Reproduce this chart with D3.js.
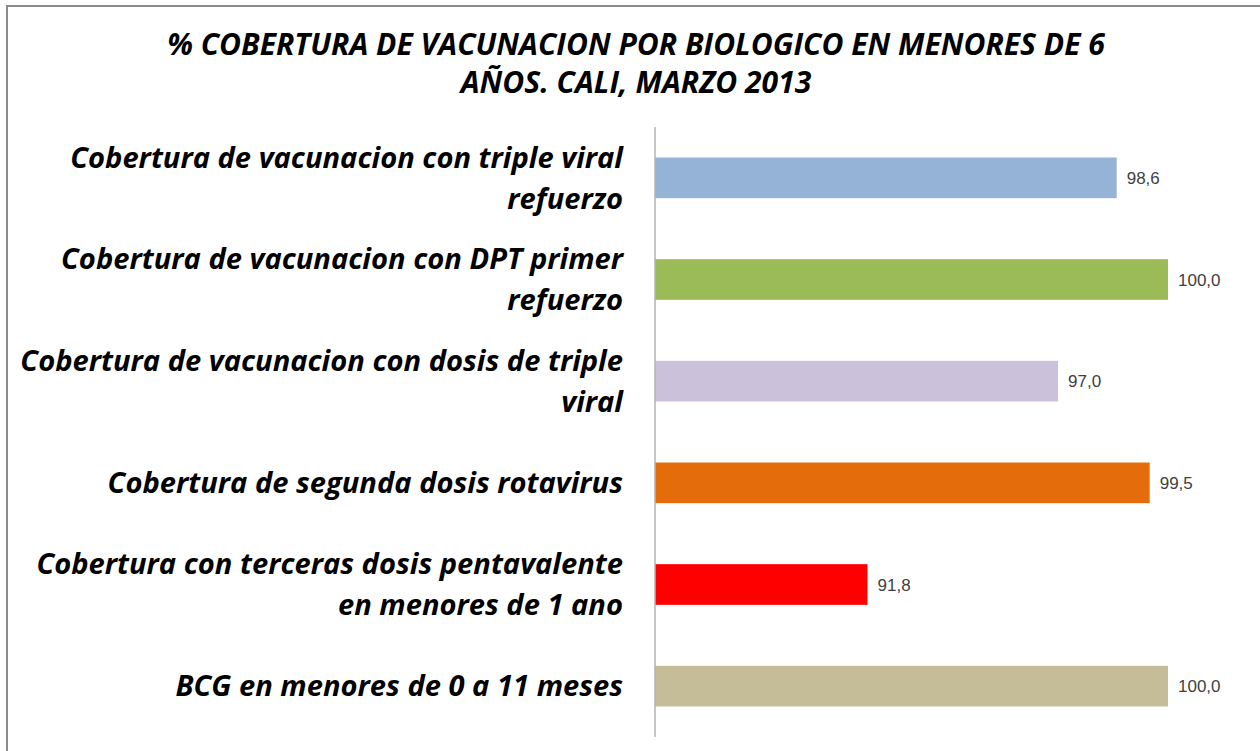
<!DOCTYPE html>
<html>
<head>
<meta charset="utf-8">
<script src="https://cdn.jsdelivr.net/npm/d3@7"></script>
<style>
  body { margin: 0; background: #fff; }
  svg { display: block; }
  .lbl { font-family: "Open Sans", Lato, sans-serif; font-weight: bold; font-style: italic; fill: #000; }
  .val { font-family: "Liberation Sans", Arial, sans-serif; font-size: 17px; fill: #404040; }
</style>
</head>
<body>
<div id="chart"></div>
<script>
// categories, top to bottom, with their wrapped lines
const categories = [
    ["Cobertura de vacunacion con triple viral", "refuerzo"],
    ["Cobertura de vacunacion con DPT primer", "refuerzo"],
    ["Cobertura de vacunacion con dosis de triple", "viral"],
    ["Cobertura de segunda dosis rotavirus"],
    ["Cobertura con terceras dosis pentavalente", "en menores de 1 ano"],
    ["BCG en menores de 0 a 11 meses"]
];
const values = [98.6, 100.0, 97.0, 99.5, 91.8, 100.0];
const colors = ["#95B3D7", "#9BBB59", "#CCC1DA", "#E46C0A", "#FF0000", "#C4BD97"];
const titleLines = ["% COBERTURA DE VACUNACION POR BIOLOGICO EN MENORES DE 6", "AÑOS. CALI, MARZO 2013"];

const width = 1260, height = 751;

const svg = d3.select("#chart").append("svg")
    .attr("width", width)
    .attr("height", height);

// chart frame
svg.append("rect")
    .attr("x", 7).attr("y", 6)
    .attr("width", width + 10).attr("height", height + 10)
    .attr("fill", "none")
    .attr("stroke", "#8c8c8c")
    .attr("stroke-width", 2);

// title
let title = svg.append("text").attr("class", "lbl")
    .attr("text-anchor", "middle")
    .style("font-size", "27px");
title.selectAll("tspan")
    .data(titleLines)
    .join("tspan")
    .attr("x", 636)
    .attr("y", (d, i) => 55 + i * 38)
    .text(d => d);
// fit the title to the width of the original line (about 938px)
let tw = title.select("tspan").node().getComputedTextLength();
title.style("font-size", (27 * 938 / tw) + "px");

let x = d3.scaleLinear().domain([86, 100]).range([655, 1168]);
let y = d3.scaleBand().domain(d3.range(categories.length)).range([127, 737]).paddingInner(0.6).paddingOuter(0.3);

// bars
svg.selectAll("rect.bar")
    .data(values)
    .join("rect")
    .attr("class", "bar")
    .attr("x", x(86))
    .attr("y", (d, i) => y(i))
    .attr("width", d => x(d) - x(86))
    .attr("height", y.bandwidth())
    .attr("fill", (d, i) => colors[i]);

// axis line (no ticks)
let yAxis = d3.axisLeft(y).tickSize(0).tickFormat("");
let axisG = svg.append("g").attr("transform", `translate(${x(86)},0)`).call(yAxis);
axisG.select(".domain").attr("stroke", "#b3b3b3").attr("stroke-width", 1.5)
    .attr("d", `M0,127V737`);

// value labels
svg.selectAll("text.val")
    .data(values)
    .join("text")
    .attr("class", "val")
    .attr("x", d => x(d) + 10)
    .attr("y", (d, i) => y(i) + y.bandwidth() / 2)
    .attr("dy", "0.36em")
    .text(d => d3.format(".1f")(d).replace(".", ","));

// category labels
let lineH = 41;
let labels = svg.selectAll("text.cat")
    .data(categories)
    .join("text")
    .attr("class", "lbl cat")
    .attr("text-anchor", "end")
    .style("font-size", "27px");

labels.selectAll("tspan")
    .data((d, i) => d.map((t, j) => ({ t, j, n: d.length, i })))
    .join("tspan")
    .attr("x", 623)
    .attr("y", d => y(d.i) + y.bandwidth() / 2 + (d.j - (d.n - 1) / 2) * lineH)
    .attr("dy", "0.35em")
    .text(d => d.t);

// fit labels so the longest line is about 603px wide, like the original
let longest = labels.filter((d, i) => i === 2).select("tspan").node().getComputedTextLength();
labels.style("font-size", (27 * 603 / longest) + "px");
</script>
</body>
</html>
